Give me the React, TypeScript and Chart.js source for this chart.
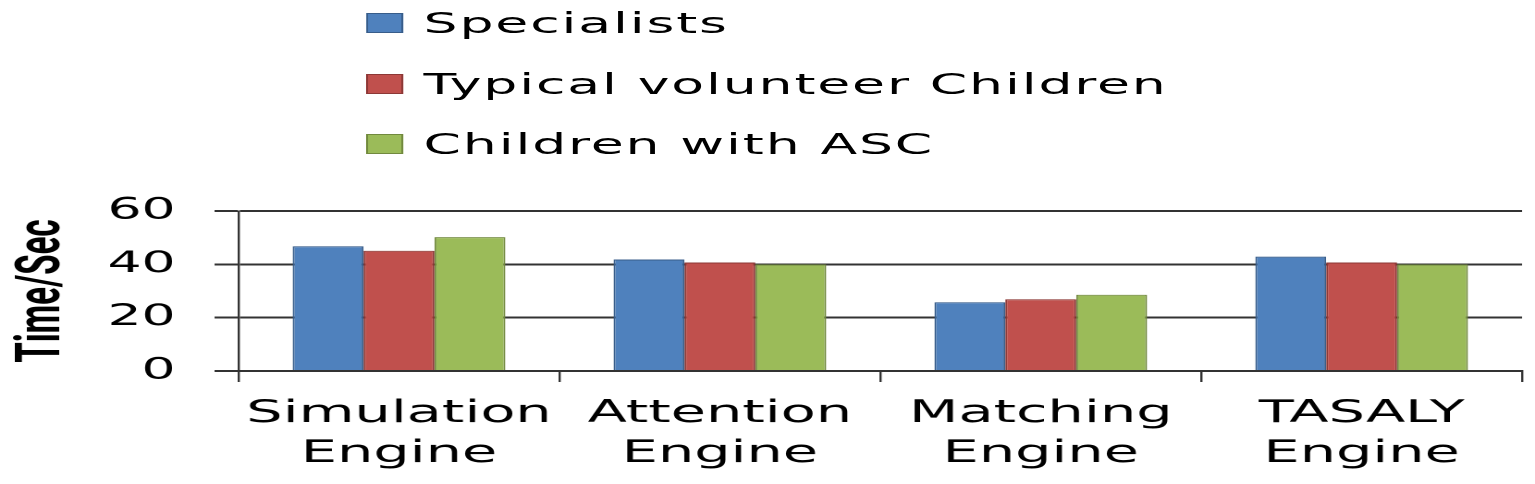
import React, { useEffect, useRef } from 'react';
import { Chart, registerables } from 'chart.js';

Chart.register(...registerables);

const categories: string[][] = [
  ['Simulation', 'Engine'],
  ['Attention', 'Engine'],
  ['Matching', 'Engine'],
  ['TASALY', 'Engine'],
];
const seriesNames = ['Specialists', 'Typical volunteer Children', 'Children with ASC'];
const specialists = [46.8, 41.8, 25.8, 42.9];
const typicalChildren = [45.1, 40.7, 26.9, 40.7];
const ascChildren = [50.2, 40.0, 28.6, 40.0];
const yTickValues = [0, 20, 40, 60];
const yTitle = 'Time/Sec';

const fillColors = ['#4F81BD', '#C0504D', '#9BBB59'];
const borderColors = ['#385D8A', '#8C3836', '#71893E'];

const W = 830;
const H = 484;
const SX = 1535 / W;
const FONT = "'DejaVu Sans', Verdana, sans-serif";

export default function App() {
  const ref = useRef<HTMLCanvasElement>(null);

  useEffect(() => {
    document.body.style.margin = '0';
    document.body.style.background = '#fff';
    const seriesValues = [specialists, typicalChildren, ascChildren];
    const chart = new Chart(ref.current as HTMLCanvasElement, {
      type: 'bar',
      data: {
        labels: categories,
        datasets: seriesNames.map((name, i) => ({
          label: name,
          data: seriesValues[i],
          backgroundColor: fillColors[i],
          borderColor: borderColors[i],
          borderWidth: 1,
          categoryPercentage: 0.663,
          barPercentage: 1.0,
        })),
      },
      options: {
        animation: false,
        responsive: false,
        devicePixelRatio: 2,
        layout: { padding: { top: 211, right: 7, bottom: 10, left: 0 } },
        plugins: {
          legend: { display: false },
          tooltip: { enabled: false },
        },
        scales: {
          x: {
            grid: {
              offset: true,
              drawOnChartArea: false,
              drawTicks: true,
              tickLength: 11,
              color: '#333',
              lineWidth: 1.2,
            },
            border: { display: true, color: '#333', width: 2 },
            ticks: {
              color: '#000',
              font: { family: FONT, size: 31, lineHeight: 1.29 },
              padding: 12,
              maxRotation: 0,
              autoSkip: false,
            },
            afterFit: (s: any) => {
              s.height = 103;
            },
          },
          y: {
            min: 0,
            max: 60,
            afterBuildTicks: (s: any) => {
              s.ticks = yTickValues.map((v) => ({ value: v }));
            },
            grid: {
              color: '#333',
              lineWidth: 2,
              tickLength: 13,
              drawTicks: true,
            },
            border: { display: true, color: '#333', width: 1.2 },
            ticks: {
              color: '#000',
              font: { family: FONT, size: 29 },
              padding: 21,
            },
            title: {
              display: true,
              text: yTitle,
              color: '#000',
              font: { family: 'Roboto, "Liberation Sans", sans-serif', size: 33, weight: 'bold' },
              padding: { top: 4, bottom: 0 },
            },
            afterFit: (s: any) => {
              s.width = 129;
            },
          },
        },
      },
    });
    return () => chart.destroy();
  }, []);

  const legendRows = [23, 84, 144];

  return (
    <div style={{ width: 1535, height: 484, position: 'relative', overflow: 'hidden', background: '#fff' }}>
      <div
        style={{
          position: 'absolute',
          left: 0,
          top: 0,
          width: W,
          height: H,
          transform: `scaleX(${SX})`,
          transformOrigin: '0 0',
        }}
      >
        <canvas ref={ref} width={W} height={H} style={{ display: 'block' }} />
        {seriesNames.map((name, i) => (
          <div
            key={name}
            style={{
              position: 'absolute',
              left: 198,
              top: legendRows[i] - 10,
              height: 20,
              display: 'flex',
              alignItems: 'center',
              whiteSpace: 'nowrap',
            }}
          >
            <div
              style={{
                width: 20,
                height: 20,
                boxSizing: 'border-box',
                background: fillColors[i],
                border: `1px solid ${borderColors[i]}`,
              }}
            />
            <span
              style={{
                marginLeft: 11,
                fontFamily: FONT,
                fontSize: 29,
                letterSpacing: '1px',
                color: '#000',
              }}
            >
              {name}
            </span>
          </div>
        ))}
      </div>
    </div>
  );
}
